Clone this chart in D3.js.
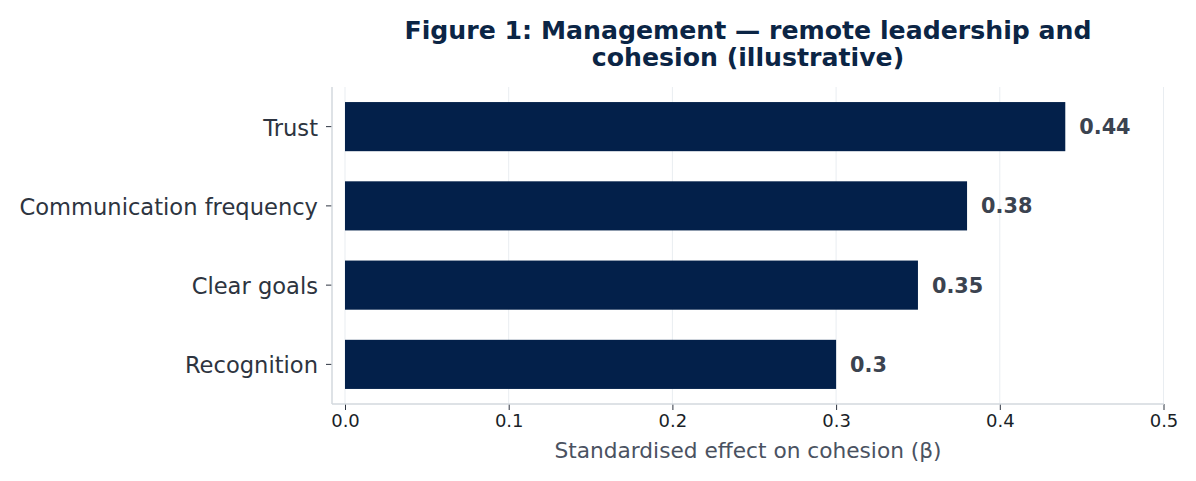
<!DOCTYPE html>
<html><head><meta charset="utf-8">
<script src="https://cdn.jsdelivr.net/npm/d3@7/dist/d3.min.js"></script>
<style>
html,body{margin:0;padding:0;background:#fff;}
svg{display:block;font-family:"DejaVu Sans",sans-serif;}
</style></head>
<body><svg id="chart" width="1196" height="481"></svg>
<script>
const categories = ["Trust", "Communication frequency", "Clear goals", "Recognition"];
const values = [0.44, 0.38, 0.35, 0.30];
const valueLabels = ["0.44", "0.38", "0.35", "0.3"];
const xTicks = [0.0, 0.1, 0.2, 0.3, 0.4, 0.5];
const titleLines = ["Figure 1: Management \u2014 remote leadership and", "cohesion (illustrative)"];
const xLabel = "Standardised effect on cohesion (\u03b2)";

const svg = d3.select("#chart");
const plot = {left: 332, right: 1164, top: 87, bottom: 404};

const x = d3.scaleLinear().domain([0, 0.5]).range([345, 1163.5]);
const y = d3.scaleBand().domain(categories).range([plot.top, plot.bottom])
  .paddingInner(0.38).paddingOuter(0.19);

// grid
svg.append("g").selectAll("line").data(xTicks).join("line")
  .attr("x1", d => x(d)).attr("x2", d => x(d))
  .attr("y1", plot.top).attr("y2", plot.bottom)
  .attr("stroke", "#e9edf1").attr("stroke-width", 1);

// bars
svg.append("g").selectAll("rect").data(values).join("rect")
  .attr("x", x(0)).attr("y", (d, i) => y(categories[i]))
  .attr("width", d => x(d) - x(0)).attr("height", y.bandwidth())
  .attr("fill", "#03204a");

// value labels
svg.append("g").selectAll("text").data(values).join("text")
  .attr("x", d => x(d) + 14).attr("y", (d, i) => y(categories[i]) + y.bandwidth() / 2)
  .attr("dy", "0.36em")
  .attr("font-size", 20.8).attr("font-weight", "bold").attr("fill", "#3b4350")
  .text((d, i) => valueLabels[i]);

// x axis
const xAxis = svg.append("g").attr("transform", `translate(0,${plot.bottom})`)
  .call(d3.axisBottom(x).tickValues(xTicks).tickFormat(d3.format(".1f")).tickSize(6).tickPadding(4));
xAxis.select(".domain").remove();
xAxis.selectAll(".tick line").attr("stroke", "#2d3440");
xAxis.selectAll("text").attr("font-size", 18).attr("fill", "#1a1f28").attr("font-family", "DejaVu Sans");

// y axis
const yAxis = svg.append("g").attr("transform", `translate(${plot.left},0)`)
  .call(d3.axisLeft(y).tickSize(6).tickPadding(8));
yAxis.select(".domain").remove();
yAxis.selectAll(".tick line").attr("stroke", "#2d3440");
yAxis.selectAll("text").attr("font-size", 22.6).attr("dy", "0.4em").attr("fill", "#2d3440").attr("font-family", "DejaVu Sans");

// spines
svg.append("line").attr("x1", plot.left).attr("x2", plot.left).attr("y1", plot.top).attr("y2", plot.bottom)
  .attr("stroke", "#d3d8de").attr("stroke-width", 1.5);
svg.append("line").attr("x1", plot.left).attr("x2", plot.right).attr("y1", plot.bottom).attr("y2", plot.bottom)
  .attr("stroke", "#d3d8de").attr("stroke-width", 1.5);

// x label
svg.append("text").attr("x", 748).attr("y", 458)
  .attr("text-anchor", "middle").attr("font-size", 21.7).attr("fill", "#4a5261")
  .text(xLabel);

// title
svg.append("g").selectAll("text").data(titleLines).join("text")
  .attr("x", 748).attr("y", (d, i) => 39 + i * 27)
  .attr("text-anchor", "middle").attr("font-size", 25.2).attr("font-weight", "bold")
  .attr("fill", "#0b2545").text(d => d);
</script></body></html>
